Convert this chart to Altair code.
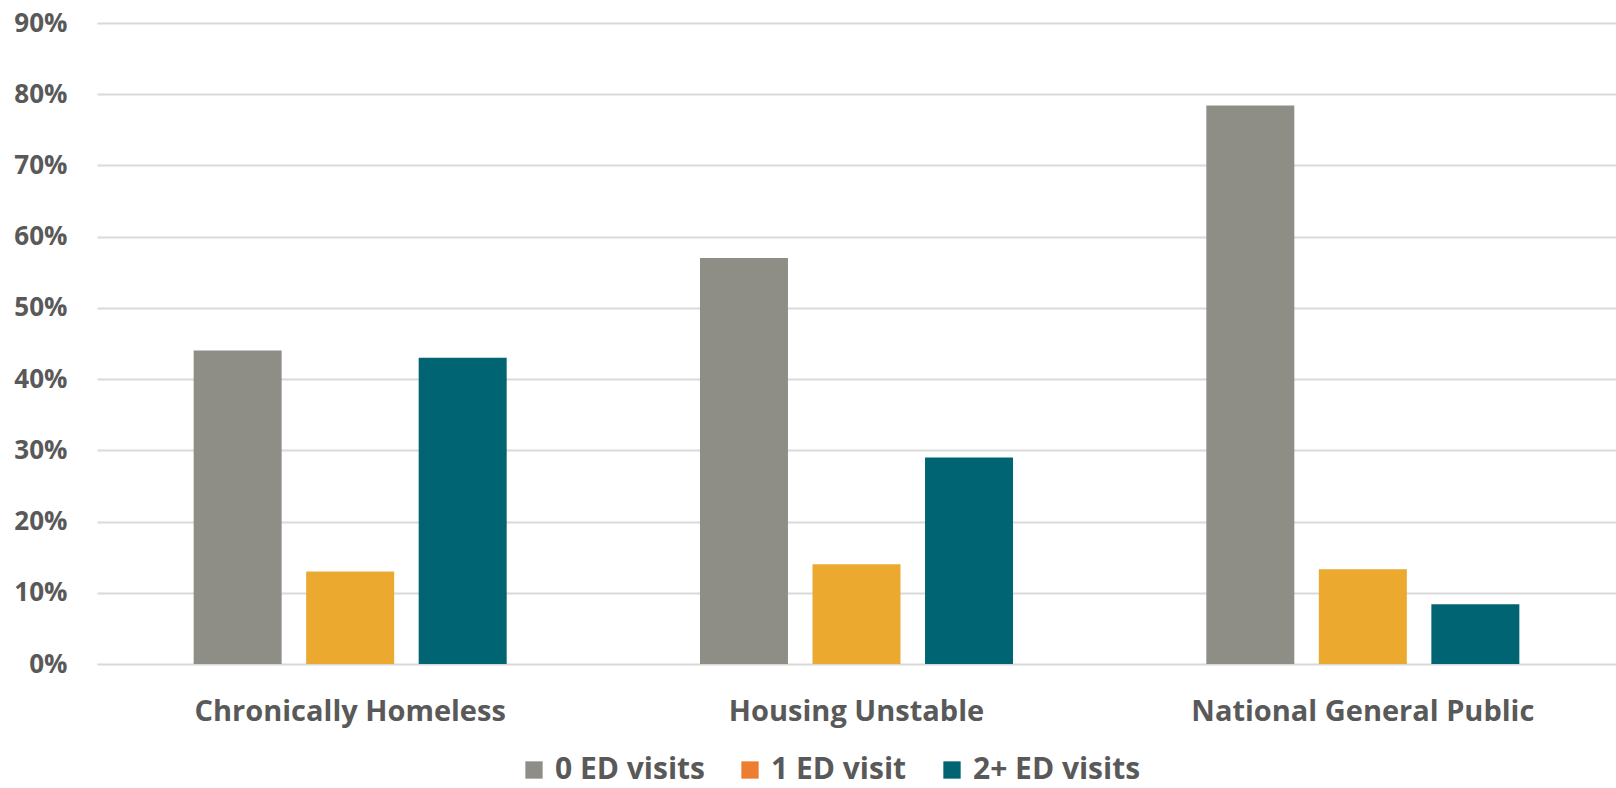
import altair as alt
import pandas as pd

categories = ["Chronically Homeless", "Housing Unstable", "National General Public"]
series = ["0 ED visits", "1 ED visit", "2+ ED visits"]
zero_visits = [0.44, 0.57, 0.784]
one_visit = [0.13, 0.14, 0.133]
two_plus_visits = [0.43, 0.29, 0.084]

bar_colors = ["#8E8E87", "#ECA930", "#006472"]
legend_colors = ["#8E8E87", "#ED7D31", "#006472"]

rows = []
for i, c in enumerate(categories):
    for s, vals in zip(series, [zero_visits, one_visit, two_plus_visits]):
        rows.append({"category": c, "series": s, "key": s, "value": vals[i]})
df = pd.DataFrame(rows)

FONT = "Open Sans"
TXT = "#595959"

x_enc = alt.X("category:N", sort=categories, title=None,
              scale=alt.Scale(paddingInner=0, paddingOuter=0),
              axis=alt.Axis(domain=False, ticks=False, labelAngle=0, labelLimit=0,
                            labelFont=FONT, labelFontSize=29, labelFontWeight="bold",
                            labelColor=TXT, labelPadding=33))
xo_enc = alt.XOffset("series:N", sort=series,
                     scale=alt.Scale(paddingInner=0.218, paddingOuter=0.859))
y_enc = alt.Y("value:Q", title=None,
              scale=alt.Scale(domain=[0, 0.9], nice=False),
              axis=alt.Axis(format=".0%", values=[i / 10 for i in range(10)],
                            domain=False, ticks=False, grid=True,
                            gridColor="#D9D9D9", gridWidth=2,
                            labelFont=FONT, labelFontSize=26, labelFontWeight="bold",
                            labelColor=TXT, labelPadding=30))

bars = alt.Chart(df).mark_bar().encode(
    x=x_enc,
    xOffset=xo_enc,
    y=y_enc,
    color=alt.Color("series:N", sort=series,
                    scale=alt.Scale(domain=series, range=bar_colors), legend=None),
)

legend_layer = alt.Chart(df).transform_calculate(zero="0").mark_bar().encode(
    x=x_enc,
    xOffset=xo_enc,
    y=alt.Y("zero:Q"),
    fill=alt.Fill("key:N", sort=series,
                  scale=alt.Scale(range=legend_colors),
                  legend=alt.Legend(title=None, orient="none", direction="horizontal",
                                    legendX=422, legendY=732, padding=0,
                                    symbolType="square", symbolSize=300,
                                    symbolStrokeWidth=0, labelLimit=0,
                                    labelFont=FONT, labelFontSize=30,
                                    labelFontWeight="bold", labelColor=TXT,
                                    labelOffset=6, columnPadding=30)),
)

chart = alt.layer(bars, legend_layer).properties(
    width=1519, height=641,
    padding={"left": 97, "top": 23, "right": 0, "bottom": 124},
    autosize=alt.AutoSizeParams(type="none"),
    background="white",
).configure_view(stroke=None)

chart.save("out.html", embed_options={"renderer": "svg", "actions": False})
